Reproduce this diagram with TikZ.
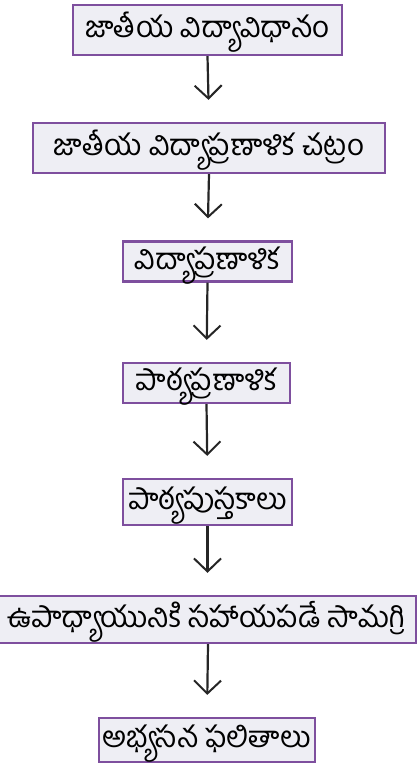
\documentclass[tikz,border=0pt]{standalone}
\usepackage{fontspec}
\newfontfamily\telugu[Script=Telugu]{Hind Guntur}
\usetikzlibrary{arrows.meta}
\definecolor{boxfill}{HTML}{EEEEF4}
\definecolor{boxline}{HTML}{7E4F9E}
\begin{document}
\begin{tikzpicture}[x=1pt,y=-1pt,
  stagebox/.style={draw=boxline,fill=boxfill,line width=2.3pt,inner sep=0pt,
    text height=20pt,text depth=5pt,
    font=\telugu\fontsize{29.5}{32}\selectfont,anchor=center},
  flowarrow/.style={draw=black!85,line width=2.2pt,
    -{Straight Barb[length=13pt,width=27pt,line width=2pt]},shorten >=22pt}]
\useasboundingbox (0,0) rectangle (417,763);
\node[stagebox,minimum width=269pt,minimum height=50pt] (b1) at (207.5,30) {జాతీయ విద్యావిధానం};
\node[stagebox,minimum width=352pt,minimum height=50pt] (b2) at (209,148) {జాతీయ విద్యాప్రణాళిక చట్రం};
\node[stagebox,minimum width=169pt,minimum height=40pt] (b3) at (207.5,261.5) {విద్యాప్రణాళిక};
\node[stagebox,minimum width=167pt,minimum height=40pt] (b4) at (206.5,383) {పాఠ్యప్రణాళిక};
\node[stagebox,minimum width=169pt,minimum height=46pt] (b5) at (207.5,502) {పాఠ్యపుస్తకాలు};
\node[stagebox,minimum width=420pt,minimum height=47pt] (b6) at (206,619.5) {ఉపాధ్యాయునికి సహాయపడే సామగ్రి};
\node[stagebox,minimum width=216pt,minimum height=44pt] (b7) at (207,740) {అభ్యసన ఫలితాలు};
\draw[flowarrow] (b1.south) -- (b2.north);
\draw[flowarrow] (b2.south) -- (b3.north);
\draw[flowarrow] (b3.south) -- (b4.north);
\draw[flowarrow] (b4.south) -- (b5.north);
\draw[flowarrow] (b5.south) -- ([xshift=1.5pt]b6.north);
\draw[flowarrow] ([xshift=2pt]b6.south) -- (b7.north);
\end{tikzpicture}
\end{document}
